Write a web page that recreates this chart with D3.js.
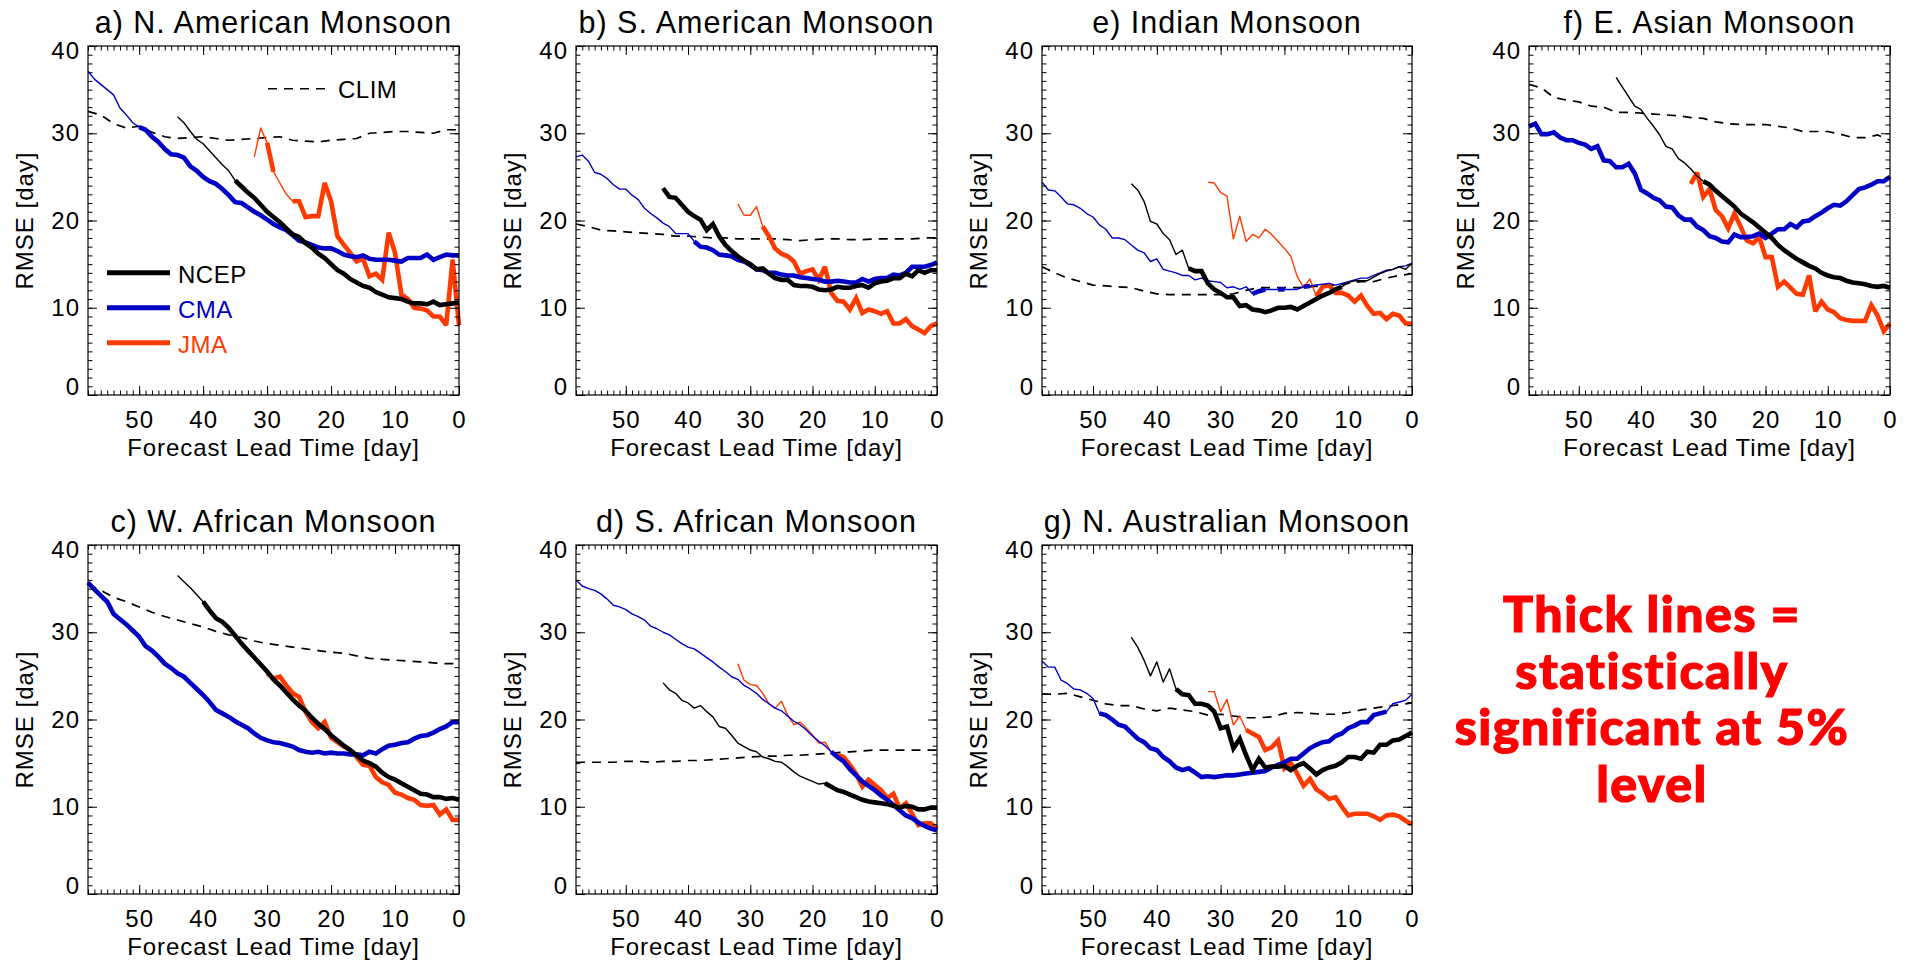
<!DOCTYPE html>
<html>
<head>
<meta charset="utf-8">
<script src="https://cdn.jsdelivr.net/npm/d3@7"></script>
<style>
  body { margin: 0; background: #fff; }
  svg text { font-family: "Liberation Sans", Arial, Helvetica, sans-serif; }
</style>
</head>
<body>
<svg id="fig" width="1916" height="961"></svg>
<script>
// RMSE [day] of monsoon onset forecasts versus lead time (58 -> 0 days).
// NCEP series start at day 44, JMA at day 32, CMA at day 58; daily values.
// CLIM (climatology) is given every 2 days from day 58 to day 0.

// a) N. American Monsoon
const ncepA = [31.9,31.2,30.2,29.3,28.8,28.0,27.2,26.4,25.7,24.6,23.9,23.2,22.6,21.8,21.0,20.4,19.8,19.1,18.4,18.1,17.4,16.9,16.2,15.7,15.0,14.3,13.9,13.3,12.9,12.5,12.3,11.8,11.5,11.2,11.1,11.0,10.7,10.5,10.5,10.4,10.7,10.3,10.4,10.5,10.6];
const cmaA = [37.1,36.2,35.6,35.0,34.4,32.9,32.1,31.2,30.7,30.4,29.6,29.0,28.2,27.6,27.5,27.2,26.2,25.7,25.0,24.5,24.2,23.6,22.9,22.1,22.0,21.5,21.0,20.6,20.1,19.6,19.2,18.9,18.3,17.7,17.5,17.2,16.9,16.8,16.8,16.5,16.1,15.9,15.8,16.0,15.6,15.5,15.5,15.5,15.4,15.3,15.7,15.7,15.7,16.1,15.5,15.8,16.1,16.0,16.0];
const jmaA = [27.3,30.6,28.9,25.6,24.3,23.0,22.2,22.2,20.4,20.5,20.5,24.3,22.2,18.2,17.2,16.3,15.3,15.6,13.6,13.9,13.2,18.6,16.3,11.5,11.0,10.0,9.9,9.7,9.0,9.0,8.0,15.5,8.0];
const climA = [32.5,32.1,31.1,30.6,30.8,30.1,29.6,29.4,29.5,29.6,29.4,29.2,29.3,29.4,29.5,29.6,29.2,29.1,29.0,29.2,29.3,29.4,30.0,30.1,30.2,30.2,30.1,30.0,30.4,30.4];

// b) S. American Monsoon
const ncepB = [23.7,22.7,22.6,21.8,21.0,20.5,20.1,18.9,19.6,18.2,17.2,16.5,15.9,15.4,15.0,14.4,14.5,13.9,13.4,13.2,13.2,12.6,12.5,12.5,12.4,12.1,12.0,12.1,12.4,12.3,12.3,12.5,12.6,12.3,12.8,13.0,13.1,13.4,13.4,13.9,13.6,14.3,14.0,14.3,14.3];
const cmaB = [27.3,27.5,26.8,25.5,25.3,24.8,24.1,23.6,23.6,22.9,22.4,21.4,20.8,20.3,19.7,19.3,18.5,18.5,18.5,17.6,17.0,16.9,16.6,16.1,16.0,15.9,15.5,15.3,14.9,14.4,14.3,14.0,14.0,13.8,13.7,13.7,13.5,13.4,13.3,13.2,13.0,13.0,13.1,13.0,12.9,12.9,13.3,13.0,13.3,13.4,13.4,13.8,13.7,14.0,14.7,14.7,14.7,14.9,15.2];
const jmaB = [21.9,20.6,20.6,21.6,19.3,18.2,16.8,16.2,15.9,15.3,13.9,14.2,14.4,13.2,14.7,11.7,10.8,10.7,9.8,11.1,9.4,9.8,9.6,9.3,9.6,8.2,8.2,8.7,7.9,7.5,7.1,7.9,8.2];
const climB = [19.6,19.3,18.9,18.8,18.7,18.6,18.5,18.4,18.2,18.2,18.1,18.0,18.0,17.9,17.9,17.9,17.9,17.8,17.7,17.8,17.9,17.9,17.8,17.8,17.9,17.9,17.9,17.9,18.0,18.0];

// c) W. African Monsoon (JMA starts at day 30)
const ncepC = [36.5,35.8,35.1,34.3,33.5,32.5,31.6,31.2,30.5,29.6,28.7,27.9,27.1,26.3,25.5,24.6,23.9,23.1,22.3,21.6,21.0,20.2,19.5,18.9,18.2,17.6,17.0,16.5,15.9,15.3,15.0,14.6,13.9,13.4,13.1,12.7,12.3,11.9,11.5,11.4,11.1,11.1,10.9,11.0,10.8];
const cmaC = [35.7,34.9,34.2,33.5,32.1,31.5,30.9,30.2,29.5,28.4,27.9,27.2,26.4,25.9,25.3,24.9,24.2,23.5,22.8,22.0,21.1,20.7,20.3,19.8,19.4,19.0,18.4,17.9,17.6,17.4,17.3,17.1,16.9,16.5,16.3,16.2,16.3,16.1,16.2,16.1,16.1,16.0,16.0,15.9,16.3,16.1,16.6,17.0,17.1,17.3,17.4,17.8,18.1,18.2,18.5,18.9,19.2,19.7,19.7];
const jmaC = [25.3,24.7,24.9,23.9,23.0,22.6,20.9,19.7,19.0,19.7,17.9,17.4,16.9,16.5,15.7,14.8,14.7,13.4,12.8,12.5,11.6,11.4,11.0,10.8,10.2,10.1,10.2,9.1,9.7,8.5,8.5];
const climC = [35.5,34.8,34.0,33.5,32.9,32.3,31.8,31.4,31.0,30.6,30.1,29.7,29.4,29.0,28.7,28.5,28.3,28.1,27.9,27.7,27.6,27.3,27.0,26.9,26.8,26.7,26.6,26.5,26.4,26.4];

// d) S. African Monsoon
const ncepD = [24.2,23.4,23.0,22.2,21.9,21.3,21.6,20.9,20.3,19.2,19.0,18.2,17.3,16.9,16.5,16.3,15.7,15.5,15.2,15.1,14.6,14.0,13.5,13.2,12.9,12.6,12.7,12.3,11.9,11.7,11.4,11.1,10.8,10.6,10.5,10.4,10.3,10.1,9.9,10.1,10.0,9.7,9.7,9.9,9.9];
const cmaD = [36.0,35.3,35.0,34.8,34.4,33.8,33.1,32.9,32.6,32.1,31.8,31.4,30.7,30.4,30.0,29.7,29.2,28.7,28.3,28.1,27.6,27.1,26.6,26.0,25.5,24.9,24.6,23.9,23.5,23.0,22.3,21.8,21.3,21.0,20.4,19.8,19.4,18.8,18.1,17.5,17.0,16.3,15.7,15.2,14.3,13.6,12.9,12.4,11.9,11.3,10.8,10.2,9.6,9.0,8.7,8.2,7.8,7.5,7.3];
const jmaD = [26.4,24.5,24.0,23.9,23.0,21.8,21.3,22.1,20.5,19.4,19.7,19.0,18.2,17.3,17.4,16.3,15.9,15.7,14.8,13.8,12.3,13.1,12.5,11.9,11.0,11.5,9.8,10.4,9.2,7.9,8.1,8.1,7.5];
const climD = [15.1,15.1,15.1,15.1,15.2,15.2,15.1,15.2,15.2,15.3,15.3,15.4,15.5,15.6,15.7,15.8,15.8,15.9,15.9,16.0,16.1,16.2,16.3,16.4,16.5,16.5,16.5,16.5,16.5,16.5];

// e) Indian Monsoon
const ncepE = [24.2,23.5,22.2,19.9,19.6,18.5,17.8,16.1,16.6,14.5,14.2,14.2,12.8,12.1,11.7,11.2,11.2,10.2,10.3,9.8,9.7,9.5,9.7,10.0,10.0,10.1,9.8,10.2,10.6,11.0,11.4,11.7,12.1,12.4,12.9,13.1,13.1,13.1,13.5,13.9,14.2,14.4,14.7,14.4,15.1];
const cmaE = [24.4,23.5,23.4,22.7,21.9,21.8,21.4,20.8,20.4,19.5,19.0,18.0,18.0,17.8,17.2,16.6,16.3,15.3,15.6,14.4,14.2,14.0,13.7,13.7,13.2,13.4,13.1,13.0,12.9,12.3,12.4,12.1,12.4,11.6,11.9,12.1,12.1,12.1,12.1,12.1,12.1,12.4,12.5,12.6,12.7,12.8,12.6,12.8,13.0,13.2,13.4,13.4,13.7,14.0,14.3,14.4,14.7,14.8,15.1];
const jmaE = [24.4,24.3,23.2,22.8,17.9,20.5,17.6,18.4,18.0,19.0,18.4,17.6,16.8,15.9,13.6,12.3,13.3,11.3,12.4,12.6,11.7,11.7,11.4,10.7,11.4,10.2,9.3,9.4,8.7,9.3,9.1,8.2,8.2];
const climE = [14.7,14.0,13.4,13.0,12.6,12.5,12.4,12.3,11.9,11.6,11.5,11.5,11.5,11.5,11.5,11.6,12.0,12.3,12.3,12.3,12.3,12.4,12.5,12.6,12.8,13.0,13.0,13.4,13.7,13.9];

// f) E. Asian Monsoon
const ncepF = [36.4,35.3,34.2,33.1,32.7,31.7,30.8,29.8,28.5,28.2,27.1,26.6,25.9,25.1,24.5,24.1,23.4,22.8,22.2,21.6,20.8,20.3,19.8,19.2,18.6,18.0,17.2,16.6,16.1,15.6,15.2,14.8,14.5,14.0,13.7,13.5,13.4,13.1,12.9,12.8,12.7,12.5,12.4,12.5,12.3];
const cmaF = [30.8,31.1,29.9,29.9,30.1,29.5,29.2,29.2,28.9,28.7,28.2,28.5,26.9,26.8,26.1,26.1,26.5,25.4,23.5,23.1,22.6,22.3,21.6,21.5,20.6,20.1,20.1,19.3,18.9,18.2,18.0,17.6,17.5,18.4,18.1,18.1,18.2,18.5,18.0,18.5,19.0,19.0,19.6,19.2,19.9,20.0,20.5,20.9,21.4,21.8,21.7,22.2,22.9,23.6,23.8,24.1,24.5,24.5,25.0];
const jmaF = [24.2,25.5,22.7,23.6,21.2,20.5,19.1,20.8,19.3,17.7,17.4,18.1,15.8,15.8,12.4,13.0,12.3,11.6,11.5,13.7,9.6,10.7,9.8,9.5,8.8,8.6,8.5,8.5,8.5,10.3,9.1,7.3,8.2];
const climF = [35.6,35.2,34.1,33.8,33.6,33.1,33.0,32.4,32.4,32.3,32.2,32.1,32.0,31.8,31.7,31.3,31.1,31.0,31.0,31.0,30.8,30.6,30.2,30.2,30.2,29.9,29.5,29.5,29.8,29.2];

// g) N. Australian Monsoon
const ncepG = [29.4,28.3,26.8,25.0,26.6,24.3,25.8,23.5,22.9,22.8,21.8,21.8,21.6,20.9,19.0,19.2,16.7,17.8,15.9,14.2,15.5,14.5,14.6,14.6,14.7,14.2,14.7,15.0,14.4,13.7,14.2,14.5,14.7,15.1,15.7,15.7,15.5,16.3,16.2,17.1,17.1,17.6,17.7,18.1,18.5];
const cmaG = [26.7,26.0,26.0,24.5,24.1,23.5,23.4,23.0,22.4,20.7,20.5,20.0,19.4,19.2,18.5,17.8,17.4,16.7,16.5,15.7,15.2,14.5,14.2,14.4,13.9,13.4,13.5,13.4,13.5,13.6,13.6,13.7,13.8,13.9,14.0,14.1,14.5,14.8,15.1,15.5,15.5,16.1,16.7,17.1,17.4,17.5,18.1,18.4,19.0,19.3,19.7,19.7,20.5,20.7,20.9,21.8,22.0,22.2,22.9];
const jmaG = [23.2,23.2,20.9,22.3,19.4,20.4,18.8,18.4,18.0,16.5,16.8,17.6,14.4,15.0,13.8,12.4,13.2,12.0,11.5,10.9,11.1,10.0,9.0,9.2,9.2,9.2,8.9,8.5,9.0,9.1,8.9,8.4,8.0];
const climG = [22.9,22.9,23.0,22.6,22.2,21.8,21.6,21.6,21.2,21.0,21.3,21.1,20.9,20.5,20.6,20.4,20.2,20.2,20.3,20.7,20.8,20.7,20.6,20.6,20.8,21.1,21.3,21.5,21.7,21.9];

// Lead-time ranges [from, to] (days) where the skill is statistically significant (thick lines)
const sigNcepA = [[35, 0]], sigCmaA = [[50, 0]], sigJmaA = [[30, 29], [26, 0]];
const sigNcepB = [[44, 0]], sigCmaB = [[39, 0]], sigJmaB = [[28, 0]];
const sigNcepC = [[40, 0]], sigCmaC = [[58, 0]], sigJmaC = [[30, 0]];
const sigNcepD = [[18, 0]], sigCmaD = [[17, 0]], sigJmaD = [[16, 0]];
const sigNcepE = [[35, 11]], sigCmaE = [[25, 23], [21, 20], [17, 16]], sigJmaE = [[15, 0]];
const sigNcepF = [[30, 0]], sigCmaF = [[58, 0]], sigJmaF = [[32, 0]];
const sigNcepG = [[37, 0]], sigCmaG = [[49, 4]], sigJmaG = [[26, 0]];

const xTicks = [50, 40, 30, 20, 10, 0];
const yTicks = [0, 10, 20, 30, 40];
const modelNames = ["NCEP", "CMA", "JMA"];
const noteLines = ["Thick lines =", "statistically", "significant at 5%", "level"];

// ---- layout ----
const COLOR = { NCEP: "#000000", CMA: "#0000c4", JMA: "#ff3a00" };
const colX = [[88, 459], [576, 937], [1042, 1412], [1529, 1890]];
const rowY = [[46, 395], [545, 894]];
const titleBase = [33, 532];

const panels = [
  { title: "a) N. American Monsoon", col: 0, row: 0, ncep: ncepA, cma: cmaA, jma: jmaA, jmaStart: 32, clim: climA, sig: [sigNcepA, sigCmaA, sigJmaA], legend: true },
  { title: "b) S. American Monsoon", col: 1, row: 0, ncep: ncepB, cma: cmaB, jma: jmaB, jmaStart: 32, clim: climB, sig: [sigNcepB, sigCmaB, sigJmaB] },
  { title: "e) Indian Monsoon",      col: 2, row: 0, ncep: ncepE, cma: cmaE, jma: jmaE, jmaStart: 32, clim: climE, sig: [sigNcepE, sigCmaE, sigJmaE] },
  { title: "f) E. Asian Monsoon",    col: 3, row: 0, ncep: ncepF, cma: cmaF, jma: jmaF, jmaStart: 32, clim: climF, sig: [sigNcepF, sigCmaF, sigJmaF] },
  { title: "c) W. African Monsoon",  col: 0, row: 1, ncep: ncepC, cma: cmaC, jma: jmaC, jmaStart: 30, clim: climC, sig: [sigNcepC, sigCmaC, sigJmaC] },
  { title: "d) S. African Monsoon",  col: 1, row: 1, ncep: ncepD, cma: cmaD, jma: jmaD, jmaStart: 32, clim: climD, sig: [sigNcepD, sigCmaD, sigJmaD] },
  { title: "g) N. Australian Monsoon", col: 2, row: 1, ncep: ncepG, cma: cmaG, jma: jmaG, jmaStart: 32, clim: climG, sig: [sigNcepG, sigCmaG, sigJmaG] }
];

const svg = d3.select("#fig");

function toPoints(values, startDay, step) {
  return values.map((v, i) => ({ day: startDay - i * step, v: v }));
}

panels.forEach(p => {
  const [x0, x1] = colX[p.col];
  const [y0, y1] = rowY[p.row];
  const x = d3.scaleLinear().domain([58, 0]).range([x0, x1]);
  const y = d3.scaleLinear().domain([0, 40]).range([y1, y0]);
  const g = svg.append("g");
  const line = d3.line().x(d => x(d.day)).y(d => y(d.v));

  // title
  g.append("text")
    .attr("x", (x0 + x1) / 2).attr("y", titleBase[p.row])
    .attr("text-anchor", "middle")
    .style("font-size", "30.5px").style("letter-spacing", "1px")
    .text(p.title);

  // climatology (dashed)
  g.append("path")
    .datum(toPoints(p.clim, 58, 2))
    .attr("d", line)
    .attr("fill", "none").attr("stroke", "#000")
    .attr("stroke-width", 1.7).attr("stroke-dasharray", "9,7");

  const series = [
    { name: "JMA", pts: toPoints(p.jma, p.jmaStart, 1), sig: p.sig[2] },
    { name: "CMA", pts: toPoints(p.cma, 58, 1), sig: p.sig[1] },
    { name: "NCEP", pts: toPoints(p.ncep, 44, 1), sig: p.sig[0] }
  ];
  series.forEach(s => {
    g.append("path").datum(s.pts).attr("d", line)
      .attr("fill", "none").attr("stroke", COLOR[s.name])
      .attr("stroke-width", 1.4).attr("stroke-linejoin", "round");
    s.sig.forEach(([hi, lo]) => {
      const seg = s.pts.filter(d => d.day <= hi && d.day >= lo);
      g.append("path").datum(seg).attr("d", line)
        .attr("fill", "none").attr("stroke", COLOR[s.name])
        .attr("stroke-width", 4.6)
        .attr("stroke-linejoin", "miter").attr("stroke-miterlimit", 2.5);
    });
  });

  // frame
  g.append("rect").attr("x", x0).attr("y", y0)
    .attr("width", x1 - x0).attr("height", y1 - y0)
    .attr("fill", "none").attr("stroke", "#000").attr("stroke-width", 1.2);

  const noDomain = sel => sel.select(".domain").remove();
  const styleTicks = sel => sel.selectAll(".tick line").attr("stroke", "#000").attr("stroke-width", 1);

  // minor ticks (every day / every unit), all four sides, pointing inward
  const xMinor = d3.range(0, 59);
  const yMinor = d3.range(0, 41);
  g.append("g").attr("transform", `translate(0,${y1})`)
    .call(d3.axisBottom(x).tickValues(xMinor).tickSize(-4.5).tickFormat(""))
    .call(noDomain).call(styleTicks);
  g.append("g").attr("transform", `translate(0,${y0})`)
    .call(d3.axisTop(x).tickValues(xMinor).tickSize(-4.5).tickFormat(""))
    .call(noDomain).call(styleTicks);
  g.append("g").attr("transform", `translate(${x0},0)`)
    .call(d3.axisLeft(y).tickValues(yMinor).tickSize(-4.5).tickFormat(""))
    .call(noDomain).call(styleTicks);
  g.append("g").attr("transform", `translate(${x1},0)`)
    .call(d3.axisRight(y).tickValues(yMinor).tickSize(-4.5).tickFormat(""))
    .call(noDomain).call(styleTicks);

  // major ticks with labels on bottom and left
  const bx = g.append("g").attr("transform", `translate(0,${y1})`)
    .call(d3.axisBottom(x).tickValues(xTicks).tickSize(-9).tickPadding(16).tickFormat(d3.format("d")))
    .call(noDomain).call(styleTicks);
  bx.selectAll("text").style("font-size", "24px").style("letter-spacing", "1px").attr("fill", "#000");
  g.append("g").attr("transform", `translate(0,${y0})`)
    .call(d3.axisTop(x).tickValues(xTicks).tickSize(-9).tickFormat(""))
    .call(noDomain).call(styleTicks);
  const ly = g.append("g").attr("transform", `translate(${x0},0)`)
    .call(d3.axisLeft(y).tickValues(yTicks).tickSize(-9).tickPadding(8).tickFormat(d3.format("d")))
    .call(noDomain).call(styleTicks);
  ly.selectAll("text").style("font-size", "24px").style("letter-spacing", "1px").attr("fill", "#000")
    .attr("transform", d => d === 40 ? "translate(0,5)" : d === 0 ? "translate(0,-8)" : null);
  g.append("g").attr("transform", `translate(${x1},0)`)
    .call(d3.axisRight(y).tickValues(yTicks).tickSize(-9).tickFormat(""))
    .call(noDomain).call(styleTicks);

  // axis titles
  g.append("text")
    .attr("x", (x0 + x1) / 2).attr("y", y1 + 61)
    .attr("text-anchor", "middle")
    .style("font-size", "24px").style("letter-spacing", "0.9px")
    .text("Forecast Lead Time [day]");
  g.append("text")
    .attr("transform", `translate(${x0 - 55},${(y0 + y1) / 2}) rotate(-90)`)
    .attr("text-anchor", "middle")
    .style("font-size", "24px").style("letter-spacing", "1px")
    .text("RMSE [day]");

  // legend
  if (p.legend) {
    const leg = g.append("g");
    modelNames.forEach((name, i) => {
      const ly0 = y(14) + i * 35;
      leg.append("line")
        .attr("x1", x0 + 19).attr("x2", x0 + 82)
        .attr("y1", ly0).attr("y2", ly0)
        .attr("stroke", COLOR[name]).attr("stroke-width", 5);
      leg.append("text")
        .attr("x", x0 + 90).attr("y", ly0 + 10)
        .attr("fill", COLOR[name])
        .style("font-size", "24px").style("letter-spacing", "0.5px")
        .text(name);
    });
    const cy = y(35.1);
    leg.append("line")
      .attr("x1", x0 + 180).attr("x2", x0 + 244)
      .attr("y1", cy).attr("y2", cy)
      .attr("stroke", "#000").attr("stroke-width", 1.7).attr("stroke-dasharray", "9,7");
    leg.append("text")
      .attr("x", x0 + 250).attr("y", cy + 9)
      .style("font-size", "24px").style("letter-spacing", "0.5px")
      .text("CLIM");
  }
});

// note on line thickness
const note = svg.append("g");
noteLines.forEach((t, i) => {
  note.append("text")
    .attr("x", 1652).attr("y", 632 + i * 56.7)
    .attr("text-anchor", "middle")
    .attr("fill", "#ff0000")
    .attr("stroke", "#ff0000").attr("stroke-width", 1.2)
    .style("font-family", "Lato, 'Open Sans', sans-serif")
    .style("font-weight", "900")
    .style("font-size", "50px")
    .style("letter-spacing", "1.5px")
    .text(t);
});
</script>
</body>
</html>
